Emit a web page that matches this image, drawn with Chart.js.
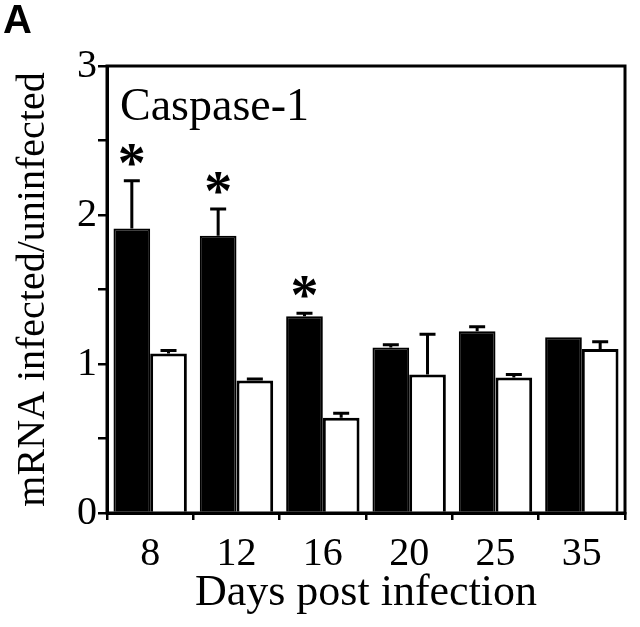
<!DOCTYPE html>
<html>
<head>
<meta charset="utf-8">
<script src="https://cdn.jsdelivr.net/npm/chart.js@4/dist/chart.umd.min.js"></script>
<style>
  html, body { margin: 0; padding: 0; background: #fff; }
  canvas { display: block; }
</style>
</head>
<body>
<canvas id="myChart" width="640" height="627"></canvas>
<script>
// dados
const dias = ['8', '12', '16', '20', '25', '35'];
const infectado = [1.91, 1.86, 1.32, 1.11, 1.22, 1.18];
const infectadoErro = [0.32, 0.18, 0.02, 0.02, 0.03, 0];
const naoInfectado = [1.07, 0.89, 0.64, 0.93, 0.91, 1.10];
const naoInfectadoErro = [0.02, 0.01, 0.03, 0.27, 0.02, 0.05];
const significativo = [true, true, true, false, false, false];

const serif = 'Liberation Serif, Times New Roman, serif';

// barras de erro, asteriscos, moldura e textos
const extras = {
  id: 'extras',
  afterDatasetsDraw(chart) {
    const ctx = chart.ctx;
    const area = chart.chartArea;
    const y = chart.scales.y;
    const erros = [infectadoErro, naoInfectadoErro];

    ctx.save();
    ctx.strokeStyle = '#000';
    ctx.lineWidth = 3;
    erros.forEach((errs, di) => {
      const meta = chart.getDatasetMeta(di);
      meta.data.forEach((bar, i) => {
        if (!errs[i]) return;
        const v = chart.data.datasets[di].data[i];
        const yTop = y.getPixelForValue(v + errs[i]);
        ctx.beginPath();
        ctx.moveTo(bar.x, bar.y);
        ctx.lineTo(bar.x, yTop);
        ctx.moveTo(bar.x - 8, yTop);
        ctx.lineTo(bar.x + 8, yTop);
        ctx.stroke();
      });
    });

    // asteriscos
    ctx.fillStyle = '#000';
    ctx.textAlign = 'center';
    ctx.textBaseline = 'alphabetic';
    ctx.font = 'bold 56px ' + serif;
    const meta0 = chart.getDatasetMeta(0);
    significativo.forEach((s, i) => {
      if (!s) return;
      const yTop = y.getPixelForValue(infectado[i] + infectadoErro[i]);
      ctx.fillText('*', meta0.data[i].x, yTop - 25 + 26);
    });

    // moldura
    ctx.lineWidth = 3;
    ctx.strokeRect(area.left, area.top, area.right - area.left, area.bottom - area.top);

    // rótulos
    ctx.textAlign = 'left';
    ctx.font = '46px ' + serif;
    ctx.fillText('Caspase-1', area.left + 13, area.top + 54);
    ctx.font = 'bold 40px Liberation Sans, Arial, sans-serif';
    ctx.fillText('A', 3, 33);
    ctx.restore();
  }
};

const ctx = document.getElementById('myChart').getContext('2d');
const myChart = new Chart(ctx, {
  type: 'bar',
  data: {
    labels: dias,
    datasets: [{
      label: 'Infected',
      data: infectado,
      backgroundColor: '#000',
      borderColor: '#000',
      borderWidth: 2
    }, {
      label: 'Uninfected',
      data: naoInfectado,
      backgroundColor: '#fff',
      borderColor: '#000',
      borderWidth: 3
    }]
  },
  options: {
    responsive: false,
    animation: false,
    events: [],
    layout: { padding: { top: 66, right: 15, left: 0, bottom: 0 } },
    datasets: { bar: { categoryPercentage: 0.85, barPercentage: 1.0 } },
    plugins: { legend: { display: false }, tooltip: { enabled: false } },
    scales: {
      x: {
        grid: { offset: true, drawOnChartArea: false, color: '#000', lineWidth: 2.5, tickLength: 7 },
        border: { display: true, color: '#000', width: 3 },
        ticks: { color: '#000', font: { family: serif, size: 40 }, padding: 10 },
        title: { display: true, text: 'Days post infection', color: '#000', font: { family: serif, size: 44 }, padding: { top: 0, bottom: 7 } },
        afterFit(scale) { scale.height = 627 - 513; }
      },
      y: {
        min: 0,
        max: 3,
        grid: { drawOnChartArea: false, color: '#000', lineWidth: 2.5, tickLength: 9 },
        border: { display: true, color: '#000', width: 3 },
        ticks: {
          stepSize: 0.5,
          color: '#000',
          font: { family: serif, size: 40 },
          padding: 1,
          callback: v => Number.isInteger(v) ? String(v) : ''
        },
        title: { display: true, text: 'mRNA infected/uninfected', color: '#000', font: { family: serif, size: 40 }, padding: { top: 9, bottom: 0 } },
        afterFit(scale) { scale.width = 107; }
      }
    }
  },
  plugins: [extras]
});
</script>
</body>
</html>
